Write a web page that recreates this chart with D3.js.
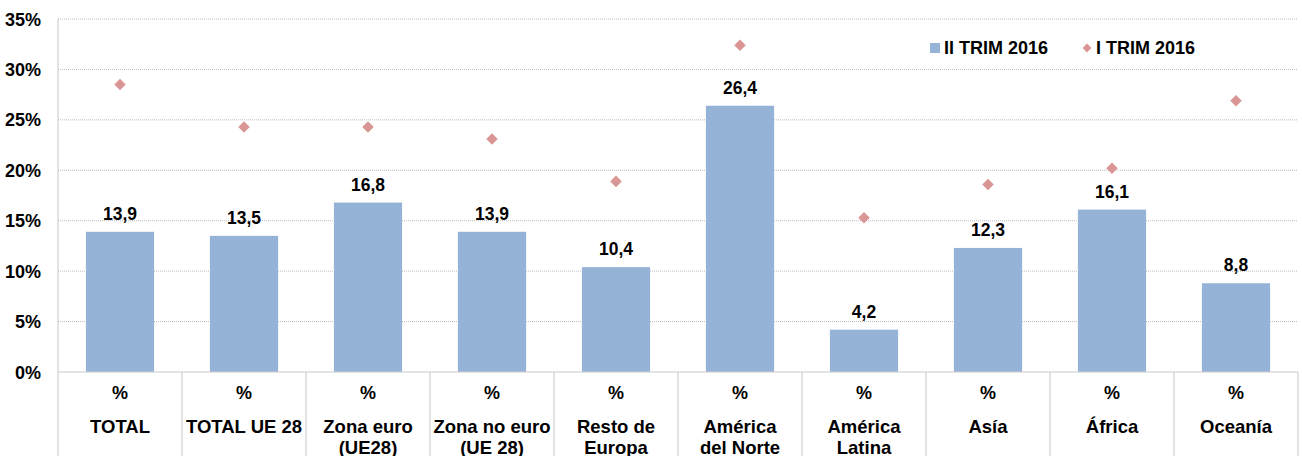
<!DOCTYPE html>
<html>
<head>
<meta charset="utf-8">
<script src="https://cdn.jsdelivr.net/npm/d3@7"></script>
<style>
  body { margin: 0; background: #fff; }
  text { font-family: "Liberation Sans", Arial, sans-serif; font-weight: bold; fill: #000; }
</style>
</head>
<body>
<div id="chart"></div>
<script>
// categories (two label lines each)
const categories = ["TOTAL", "TOTAL UE 28", "Zona euro", "Zona no euro", "Resto de", "América", "América", "Asía", "África", "Oceanía"];
const categories2 = ["", "", "(UE28)", "(UE 28)", "Europa", "del Norte", "Latina", "", "", ""];
// II TRIM 2016 (bars)
const trim2 = [13.9, 13.5, 16.8, 13.9, 10.4, 26.4, 4.2, 12.3, 16.1, 8.8];
// I TRIM 2016 (markers)
const trim1 = [28.5, 24.3, 24.3, 23.1, 18.9, 32.4, 15.3, 18.6, 20.2, 26.9];
const yTicks = [0, 5, 10, 15, 20, 25, 30, 35];

const W = 1302, H = 456;
const margin = {top: 19, right: 4, bottom: 84, left: 58};
const width = W - margin.left - margin.right;
const height = H - margin.top - margin.bottom;

const svg = d3.select("#chart").append("svg")
	.attr("width", W)
	.attr("height", H);

const g = svg.append("g")
	.attr("transform", `translate(${margin.left},${margin.top})`);

const x = d3.scaleBand()
	.domain(d3.range(categories.length))
	.range([0, width])
	.paddingInner(0.45)
	.paddingOuter(0.225);

const step = width / categories.length;

const y = d3.scaleLinear()
	.domain([0, 35])
	.range([height, 0]);

// gridlines
g.selectAll(".grid")
	.data(yTicks.filter(d => d > 0))
	.enter().append("line")
	.attr("x1", 0)
	.attr("x2", width)
	.attr("y1", d => y(d))
	.attr("y2", d => y(d))
	.attr("stroke", "#bdbdbd")
	.attr("stroke-width", 1)
	.attr("stroke-dasharray", "1,1");

// y axis labels
g.selectAll(".ytick")
	.data(yTicks)
	.enter().append("text")
	.attr("x", -17)
	.attr("y", d => y(d) + 6.5)
	.attr("text-anchor", "end")
	.style("font-size", "18px")
	.text(d => d + "%");

// bars
g.selectAll(".bar")
	.data(trim2)
	.enter().append("rect")
	.attr("x", (d, i) => x(i))
	.attr("width", x.bandwidth())
	.attr("y", d => y(d))
	.attr("height", d => height - y(d))
	.attr("fill", "#95b3d7");

// bar value labels
g.selectAll(".val")
	.data(trim2)
	.enter().append("text")
	.attr("x", (d, i) => x(i) + x.bandwidth() / 2)
	.attr("y", d => y(d) - 12)
	.attr("text-anchor", "middle")
	.style("font-size", "17.5px")
	.text(d => d3.format(".1f")(d).replace(".", ","));

// markers
const diamond = d3.symbol().type(d3.symbolDiamond2).size(85);
g.selectAll(".mark")
	.data(trim1)
	.enter().append("path")
	.attr("d", diamond)
	.attr("transform", (d, i) => `translate(${x(i) + x.bandwidth() / 2},${y(d)})`)
	.attr("fill", "#d99694");

// axes lines
g.append("line")
	.attr("x1", 0).attr("x2", 0)
	.attr("y1", 0).attr("y2", H - margin.top)
	.attr("stroke", "#c8c8c8");
g.append("line")
	.attr("x1", 0).attr("x2", width)
	.attr("y1", height).attr("y2", height)
	.attr("stroke", "#c8c8c8");

// category separators
g.selectAll(".sep")
	.data(d3.range(1, categories.length + 1))
	.enter().append("line")
	.attr("x1", d => d * step)
	.attr("x2", d => d * step)
	.attr("y1", height)
	.attr("y2", H - margin.top)
	.attr("stroke", "#c8c8c8");

// category labels
const cat = g.selectAll(".cat")
	.data(categories)
	.enter().append("g")
	.attr("transform", (d, i) => `translate(${i * step + step / 2},${height})`);

cat.append("text")
	.attr("y", 27)
	.attr("text-anchor", "middle")
	.style("font-size", "18px")
	.text("%");
cat.append("text")
	.attr("y", 61)
	.attr("text-anchor", "middle")
	.style("font-size", "18.5px")
	.text(d => d);
cat.append("text")
	.attr("y", 82)
	.attr("text-anchor", "middle")
	.style("font-size", "18.5px")
	.text((d, i) => categories2[i]);

// legend
const legend = svg.append("g").attr("transform", "translate(930,48)");
legend.append("rect")
	.attr("x", 0).attr("y", -5)
	.attr("width", 10).attr("height", 10)
	.attr("fill", "#95b3d7");
legend.append("text")
	.attr("x", 14).attr("y", 6)
	.style("font-size", "18px")
	.text("II TRIM 2016");
legend.append("path")
	.attr("d", d3.symbol().type(d3.symbolDiamond2).size(50))
	.attr("transform", "translate(157,0)")
	.attr("fill", "#d99694");
legend.append("text")
	.attr("x", 166).attr("y", 6)
	.style("font-size", "18px")
	.text("I TRIM 2016");
</script>
</body>
</html>
